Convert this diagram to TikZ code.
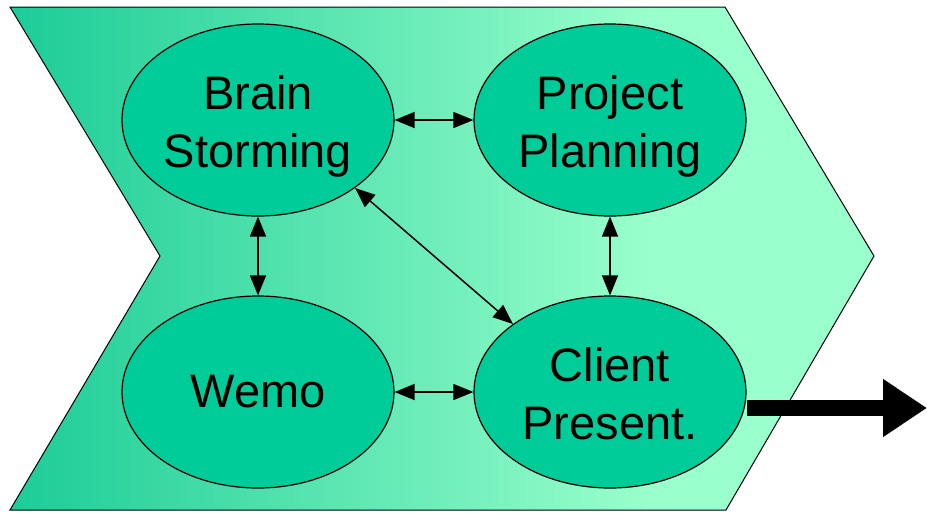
\documentclass[tikz,border=0pt]{standalone}
\usepackage{fontspec}
\setmainfont{Liberation Sans}
\usetikzlibrary{shapes.geometric,arrows.meta}
\definecolor{chevleft}{RGB}{28,204,151}
\definecolor{chevright}{RGB}{153,255,204}
\definecolor{ellfill}{RGB}{0,204,153}
\pgfdeclarehorizontalshading{chevshade}{100bp}{color(0bp)=(chevleft); color(25bp)=(chevleft); color(62bp)=(chevright); color(100bp)=(chevright)}
\tikzset{
  stage/.style={ellipse, draw=black, line width=1.2pt, fill=ellfill, minimum width=272pt, minimum height=192pt, inner sep=0pt, align=center, font=\fontsize{47}{58}\selectfont},
  twoline/.style={text height=104pt, text depth=10pt},
  link/.style={draw=black, line width=1.5pt, {Triangle[length=20pt,width=16pt]}-{Triangle[length=20pt,width=16pt]}},
  outflow/.style={draw=black, line width=16pt, -{Triangle[length=44pt,width=55pt]}}
}
\begin{document}
\begin{tikzpicture}[x=1pt,y=-1pt]
\useasboundingbox (0,0) rectangle (927,512);
\path[shading=chevshade, draw=black, line width=1pt] (10,7) -- (725,7) -- (874,256) -- (726,510) -- (10,510) -- (160,256) -- cycle;
\node[stage, twoline] (bs) at (258,120) {Brain\\Storming};
\node[stage, twoline] (pp) at (610,120) {Project\\Planning};
\node[stage] (wm) at (258,392) {Wemo};
\node[stage, twoline] (cp) at (610,392) {Client\\Present.};
\draw[link] (bs) -- (pp);
\draw[link] (wm) -- (cp);
\draw[link] (bs) -- (wm);
\draw[link] (pp) -- (cp);
\draw[link] (bs.-35) -- (cp.145);
\coordinate (tip) at (927,408);
\draw[outflow] (cp.east |- tip) -- (tip);
\end{tikzpicture}
\end{document}
